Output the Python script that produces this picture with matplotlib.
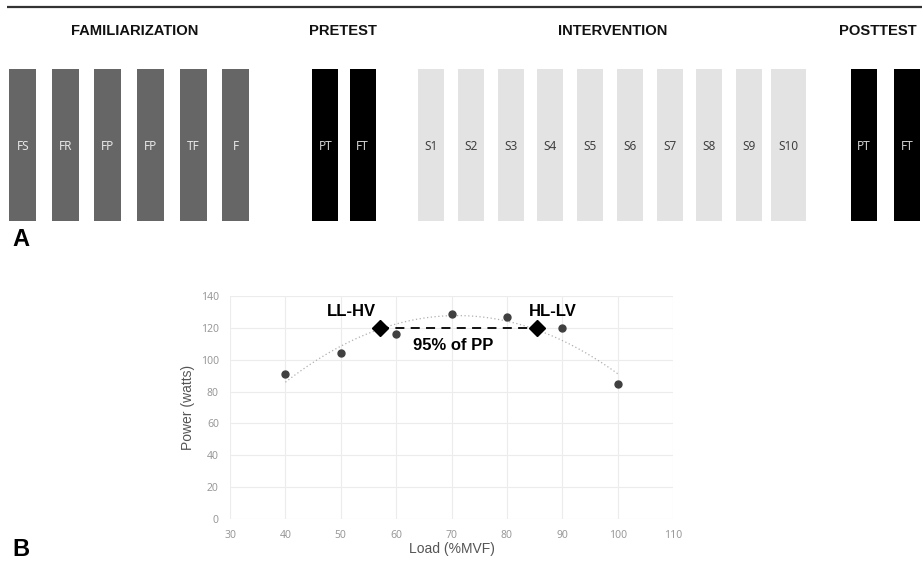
import numpy as np
import matplotlib
matplotlib.use('Agg')
import matplotlib.pyplot as plt

# panel A: study design
phases = ['FAMILIARIZATION', 'PRETEST', 'INTERVENTION', 'POSTTEST']
fam_sessions = ['FS', 'FR', 'FP', 'FP', 'TF', 'F']
pre_sessions = ['PT', 'FT']
int_sessions = ['S1', 'S2', 'S3', 'S4', 'S5', 'S6', 'S7', 'S8', 'S9', 'S10']
post_sessions = ['PT', 'FT']

# panel B: power-load relationship
load = [40, 50, 60, 70, 80, 90, 100]
power = [91, 104, 116, 129, 127, 120, 85]
ll_hv = (57, 120)
hl_lv = (85.5, 120)

W, H = 922, 562
FONT = 'Liberation Sans'

fig = plt.figure(figsize=(W / 100, H / 100), dpi=100)
fig.patch.set_facecolor('white')

# whole-figure axes in pixel units for the schematic
ax_a = fig.add_axes([0, 0, 1, 1])
ax_a.set_xlim(0, W)
ax_a.set_ylim(H, 0)
ax_a.axis('off')

ax_a.plot([7, W], [7, 7], color='#333333', lw=1.6, solid_capstyle='butt')

# (sessions, first centre, step, bar width, fill, text colour, heading x)
groups = [
    (fam_sessions, 22.7, 42.6, 27, '#666666', '#e6e6e6', 135),
    (pre_sessions, 325.3, 37.4, 26, '#000000', '#d0d0d0', 343),
    (int_sessions, 431.3, 39.7, 26, '#e3e3e3', '#404040', 613),
    (post_sessions, 863.7, 43.3, 26, '#000000', '#d0d0d0', 878),
]
for (sessions, x0, step, w, fill, tcol, hx), phase in zip(groups, phases):
    xs = x0 + step * np.arange(len(sessions))
    widths = [w] * len(sessions)
    if sessions is int_sessions:
        widths[-1] = 35
    ax_a.bar(xs, 152, bottom=69, width=widths, color=fill, edgecolor='none')
    for x, s in zip(xs, sessions):
        ax_a.text(x, 146, s, ha='center', va='center', fontsize=8.5,
                  color=tcol, family='Noto Sans')
    ax_a.text(hx, 31, phase, ha='center', va='center', fontsize=10.6,
              fontweight='bold', family=FONT, color='#111111')

ax_a.text(12, 240, 'A', ha='left', va='center', fontsize=17,
          fontweight='bold', family=FONT)
ax_a.text(12, 549, 'B', ha='left', va='center', fontsize=17,
          fontweight='bold', family=FONT)

# panel B
ax_b = fig.add_axes([230 / W, 1 - 519 / H, 443 / W, 223 / H])
ax_b.set_xlim(30, 110)
ax_b.set_ylim(0, 140)
ax_b.set_xticks(range(30, 111, 10))
ax_b.set_yticks(range(0, 141, 20))
ax_b.grid(True, color='#ececec', lw=0.8)
ax_b.set_axisbelow(True)
for sp in ax_b.spines.values():
    sp.set_visible(False)
ax_b.tick_params(length=0, labelsize=7.5, labelcolor='#999999', pad=8)
for lab in ax_b.get_xticklabels() + ax_b.get_yticklabels():
    lab.set_family('Noto Sans')

# quadratic trendline as in the original spreadsheet
coef = np.polyfit(load, power, 2)
xx = np.linspace(min(load), max(load), 200)
ax_b.plot(xx, np.polyval(coef, xx), ls=(0, (1, 2)), color='#b0b0b0', lw=0.9)

ax_b.plot(load, power, 'o', color='#404040', ms=5, zorder=3)
ax_b.plot([ll_hv[0], hl_lv[0]], [ll_hv[1], hl_lv[1]], ls=(0, (5, 3.5)),
          color='black', lw=1.3)
ax_b.plot([ll_hv[0], hl_lv[0]], [ll_hv[1], hl_lv[1]], 'D', color='black',
          ms=8, zorder=4)

ax_b.text(52, 130, 'LL-HV', ha='center', va='center', fontsize=12,
          fontweight='bold', family=FONT)
ax_b.text(88.3, 130, 'HL-LV', ha='center', va='center', fontsize=12,
          fontweight='bold', family=FONT)
ax_b.text(70.3, 109, '95% of PP', ha='center', va='center', fontsize=12,
          fontweight='bold', family=FONT)

ax_b.set_xlabel('Load (%MVF)', fontsize=10, color='#555555', family=FONT,
                labelpad=1)
ax_b.set_ylabel('Power (watts)', fontsize=10, color='#555555', family=FONT,
                labelpad=4)

fig.savefig('out.png', dpi=100, facecolor='white')
